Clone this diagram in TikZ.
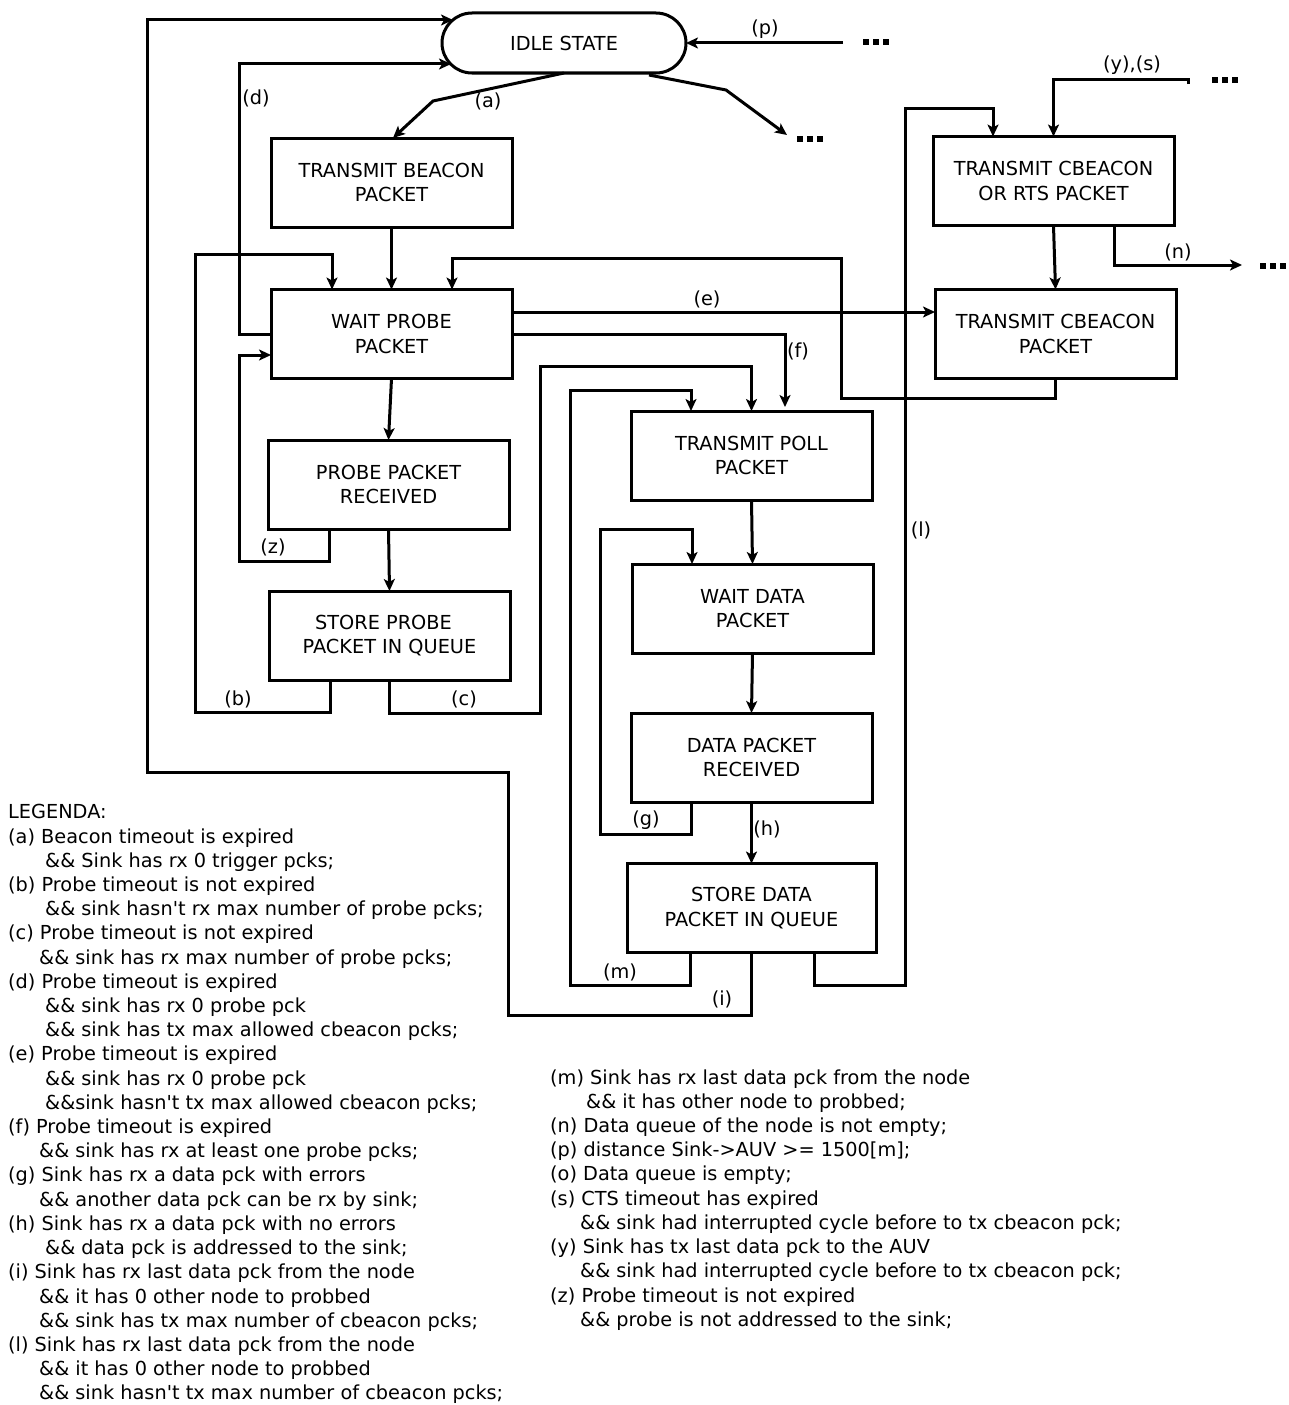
\documentclass[tikz,border=0pt]{standalone}
\usepackage{fontspec}
\newfontfamily\dvs{DejaVu Sans}
\usetikzlibrary{arrows.meta,calc}

\tikzset{
  state/.style={draw, line width=3pt, minimum width=241pt, minimum height=89pt,
    inner sep=0pt, outer sep=0pt, align=center},
  idlestate/.style={draw, line width=3pt, rounded corners=30pt, minimum width=244pt,
    minimum height=60pt, inner sep=0pt, outer sep=0pt},
  arr/.style={line width=3pt, -{Stealth[length=12pt,width=11pt,inset=3pt]}},
  lbl/.style={inner sep=0pt},
  leg/.style={anchor=base west, inner sep=0pt},
}
\newcommand{\threedots}[2]{%
  \fill (#1,#2) rectangle ++(6,6);
  \fill (#1+10,#2) rectangle ++(6,6);
  \fill (#1+20,#2) rectangle ++(6,6);}

\begin{document}
\begin{tikzpicture}[x=1pt, y=-1pt, font=\dvs\fontsize{19.3}{24.3}\selectfont]
\useasboundingbox (0,0) rectangle (1288,1405);

% states
\node[idlestate] (idle) at (564,43) {IDLE STATE};
\node[state] (tb)  at (391.5,182.5) {TRANSMIT BEACON\\PACKET};
\node[state] (wp)  at (391.5,334)   {WAIT PROBE\\PACKET};
\node[state] (pr)  at (388.5,484.5) {PROBE PACKET\\RECEIVED};
\node[state] (sp)  at (389.5,635.5) {STORE PROBE\hspace*{12pt}\\PACKET IN QUEUE};
\node[state] (tc)  at (1053.5,181)  {TRANSMIT CBEACON\\OR RTS PACKET};
\node[state] (tcb) at (1055.5,334)  {TRANSMIT CBEACON\\PACKET};
\node[state] (tp)  at (751.5,455.5) {TRANSMIT POLL\\PACKET};
\node[state] (wd)  at (752.5,608.5) {WAIT DATA\\PACKET};
\node[state] (dr)  at (751.5,757.5) {DATA PACKET\\RECEIVED};
\node[state, minimum width=249pt] (sd) at (751.5,908) {STORE DATA\\PACKET IN QUEUE};

% loose ends
\coordinate (pin)  at (843,43);
\coordinate (out1) at (787,135);
\coordinate (ysin) at (1188,84);
\coordinate (nout) at (1242,265);

% transitions
\draw[arr] (idle.south) -- (433,101) -- ([xshift=1.5pt]tb.north);
\draw[arr] ([xshift=85pt,yshift=-2pt]idle.south) -- (726,90) -- (out1);
\draw[arr] (pin) -- (idle.east);
\draw[arr] (sd.south) -- (751.5,1015) -| (508,772) -| (147,20) -- ($(idle.west)+(11,-23)$);
\draw[arr] (wp.west) -- (239,334) |- ($(idle.west)+(9,21)$);
\draw[arr] (tb.south) -- (wp.north);
\draw[arr] ([xshift=-59.5pt]sp.south) -- (330,712) -| (195,254) -| ([xshift=-59.5pt]wp.north);
\draw[arr] ([xshift=-59.5pt]pr.south) -- (329,561) -| (239,355) -- ([yshift=-21pt]wp.west);
\draw[arr] (wp.south) -- (pr.north);
\draw[arr] (pr.south) -- (sp.north);
\draw[arr] (sp.south) -- (389.5,713) -| (540,366) -| (tp.north);
\draw[arr] ([yshift=22pt]wp.east) -- ([yshift=22pt]tcb.west);
\draw[arr] (wp.east) -- (785,334) -- ([xshift=33.5pt,yshift=4pt]tp.north);
\draw[arr] (tcb.south) -- (1055.5,398) -| (841,258) -| ([xshift=60.5pt]wp.north);
\draw[arr] ([xshift=-61.5pt]sd.south) -- (690,985) -| (570,390) -| ([xshift=-60.5pt]tp.north);
\draw[arr] ([xshift=-60.5pt]dr.south) -- (691,834) -| (600,529) -| ([xshift=-60.5pt]wd.north);
\draw[arr] (tp.south) -- (wd.north);
\draw[arr] (wd.south) -- (dr.north);
\draw[arr] (dr.south) -- (sd.north);
\draw[arr] ([xshift=62.5pt]sd.south) -- (814,985) -| (905,108) -| ([xshift=-60.5pt]tc.north);
\draw[arr] (ysin) |- (1053.5,79) -- (tc.north);
\draw[arr] (tc.south) -- (tcb.north);
\draw[arr] ([xshift=60.5pt]tc.south) |- (nout);

% continuation marks
\threedots{863}{39}
\threedots{797}{136}
\threedots{1212}{77}
\threedots{1260}{263}

% transition labels
\node[lbl] (la) at (488,101) {(a)};
\node[lbl] (ld) at (256,98)  {(d)};
\node[lbl] (lp) at (765,29)  {(p)};
\node[lbl] (lb) at (238,699) {(b)};
\node[lbl] (lz) at (273,547) {(z)};
\node[lbl] (lc) at (464,699) {(c)};
\node[lbl] (le) at (707,299) {(e)};
\node[lbl] (lf) at (798,351) {(f)};
\node[lbl] (lm) at (620,972) {(m)};
\node[lbl] (lg) at (646,820) {(g)};
\node[lbl] (lh) at (767,829) {(h)};
\node[lbl] (li) at (722,999) {(i)};
\node[lbl] (ll) at (921,530) {(l)};
\node[lbl] (lys) at (1132,65) {(y),(s)};
\node[lbl] (ln) at (1178,252) {(n)};

% legend, left column
\node[leg] (g0)  at (8,818)   {LEGENDA:};
\node[leg] (g1)  at (8,843)   {(a) Beacon timeout is expired};
\node[leg] (g2)  at (45,867)  {\&\& Sink has rx 0 trigger pcks;};
\node[leg] (g3)  at (8,891)   {(b) Probe timeout is not expired};
\node[leg] (g4)  at (45,915)  {\&\& sink hasn't rx max number of probe pcks;};
\node[leg] (g5)  at (8,939)   {(c) Probe timeout is not expired};
\node[leg] (g6)  at (39,964)  {\&\& sink has rx max number of probe pcks;};
\node[leg] (g7)  at (8,988)   {(d) Probe timeout is expired};
\node[leg] (g8)  at (45,1012) {\&\& sink has rx 0 probe pck};
\node[leg] (g9)  at (45,1036) {\&\& sink has tx max allowed cbeacon pcks;};
\node[leg] (g10) at (8,1060)  {(e) Probe timeout is expired};
\node[leg] (g11) at (45,1085) {\&\& sink has rx 0 probe pck};
\node[leg] (g12) at (45,1109) {\&\&sink hasn't tx max allowed cbeacon pcks;};
\node[leg] (g13) at (8,1133)  {(f) Probe timeout is expired};
\node[leg] (g14) at (39,1157) {\&\& sink has rx at least one probe pcks;};
\node[leg] (g15) at (8,1181)  {(g) Sink has rx a data pck with errors};
\node[leg] (g16) at (39,1206) {\&\& another data pck can be rx by sink;};
\node[leg] (g17) at (8,1230)  {(h) Sink has rx a data pck with no errors};
\node[leg] (g18) at (45,1254) {\&\& data pck is addressed to the sink;};
\node[leg] (g19) at (8,1278)  {(i) Sink has rx last data pck from the node};
\node[leg] (g20) at (39,1303) {\&\& it has 0 other node to probbed};
\node[leg] (g21) at (39,1327) {\&\& sink has tx max number of cbeacon pcks;};
\node[leg] (g22) at (8,1351)  {(l) Sink has rx last data pck from the node};
\node[leg] (g23) at (39,1375) {\&\& it has 0 other node to probbed};
\node[leg] (g24) at (39,1399) {\&\& sink hasn't tx max number of cbeacon pcks;};

% legend, right column
\node[leg] (h1)  at (550,1084) {(m) Sink has rx last data pck from the node};
\node[leg] (h2)  at (586,1108) {\&\& it has other node to probbed;};
\node[leg] (h3)  at (550,1132) {(n) Data queue of the node is not empty;};
\node[leg] (h4)  at (550,1156) {(p) distance Sink->AUV >= 1500[m];};
\node[leg] (h5)  at (550,1180) {(o) Data queue is empty;};
\node[leg] (h6)  at (550,1205) {(s) CTS timeout has expired};
\node[leg] (h7)  at (580,1229) {\&\& sink had interrupted cycle before to tx cbeacon pck;};
\node[leg] (h8)  at (550,1253) {(y) Sink has tx last data pck to the AUV};
\node[leg] (h9)  at (580,1277) {\&\& sink had interrupted cycle before to tx cbeacon pck;};
\node[leg] (h10) at (550,1302) {(z) Probe timeout is not expired};
\node[leg] (h11) at (580,1326) {\&\& probe is not addressed to the sink;};
\end{tikzpicture}
\end{document}
